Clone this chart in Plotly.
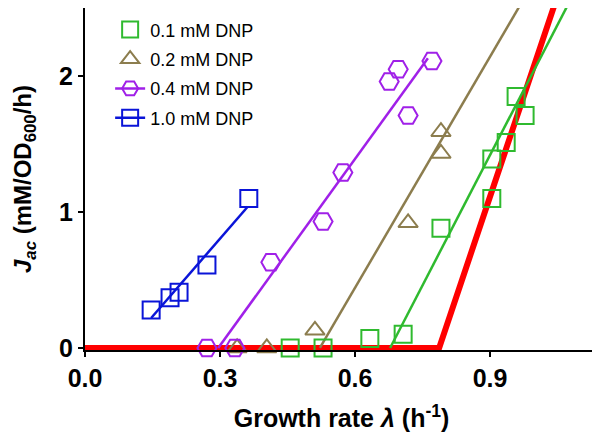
import plotly.graph_objects as go

# measured points (growth rate, acetate flux)
lam_01 = [0.456, 0.529, 0.633, 0.707, 0.791, 0.904, 0.904, 0.936, 0.958, 0.978]
jac_01 = [0.0, 0.0, 0.07, 0.10, 0.88, 1.10, 1.39, 1.51, 1.85, 1.71]
lam_02 = [0.338, 0.404, 0.511, 0.718, 0.791, 0.791]
jac_02 = [0.0, 0.0, 0.13, 0.92, 1.59, 1.43]
lam_04 = [0.271, 0.333, 0.413, 0.529, 0.573, 0.676, 0.696, 0.718, 0.771]
jac_04 = [0.0, 0.0, 0.63, 0.93, 1.29, 1.96, 2.05, 1.71, 2.11]
lam_10 = [0.147, 0.189, 0.209, 0.271, 0.364]
jac_10 = [0.28, 0.37, 0.41, 0.61, 1.10]

# fitted lines (end points)
fit_01_x = [0.678, 1.071]
fit_01_y = [0.0, 2.51]
fit_02_x = [0.522, 0.965]
fit_02_y = [0.0, 2.51]
fit_04_x = [0.296, 0.762]
fit_04_y = [0.0, 2.13]
fit_10_x = [0.147, 0.362]
fit_10_y = [0.22, 1.04]

# model prediction (no DNP)
model_x = [0.0, 0.787, 1.042]
model_y = [0.0, 0.0, 2.51]

names = ["0.1 mM DNP", "0.2 mM DNP", "0.4 mM DNP", "1.0 mM DNP"]
colors = ["#2fba2f", "#8c7d4e", "#a020e8", "#0a14d8"]

fig = go.Figure()

fig.add_trace(go.Scatter(x=model_x, y=model_y, mode="lines",
                         line=dict(color="#ff0000", width=6),
                         showlegend=False))

fits = [(fit_01_x, fit_01_y), (fit_02_x, fit_02_y), (fit_04_x, fit_04_y), (fit_10_x, fit_10_y)]
for (fx, fy), c in zip(fits, colors):
    fig.add_trace(go.Scatter(x=fx, y=fy, mode="lines", line=dict(color=c, width=2.5),
                             showlegend=False))

data = [(lam_01, jac_01), (lam_02, jac_02), (lam_04, jac_04), (lam_10, jac_10)]
symbols = ["square-open", "triangle-up-open", "hexagon2-open", "square-open"]
sizes = [17, 17, 19, 17]
for i, ((x, y), c, s, sz, n) in enumerate(zip(data, colors, symbols, sizes, names)):
    fig.add_trace(go.Scatter(x=x, y=y, mode="markers", name=n,
                             marker=dict(symbol=s, size=sz, color=c, line=dict(color=c, width=2)),
                             showlegend=(i < 2), legendgroup="g%d" % i, cliponaxis=False))
    if i >= 2:
        # legend entry with a line through the marker
        fig.add_trace(go.Scatter(x=[None], y=[None], mode="lines+markers", name=n,
                                 line=dict(color=c, width=2.5),
                                 marker=dict(symbol=s, size=sz, color=c, line=dict(color=c, width=2)),
                                 legendgroup="g%d" % i))

# page body has an 8px margin, so the figure is a bit smaller than the window
fig.update_layout(
    width=592, height=424,
    margin=dict(l=77, r=2, t=0, b=82),
    plot_bgcolor="white", paper_bgcolor="white",
    font=dict(family="Arial, Liberation Sans", color="black"),
    legend=dict(x=0.049, y=0.99, xanchor="left", yanchor="top",
                font=dict(size=18), traceorder="grouped", tracegroupgap=3,
                bgcolor="rgba(0,0,0,0)"),
    xaxis=dict(range=[0, 1.14], tickvals=[0, 0.3, 0.6, 0.9], ticktext=["0.0", "0.3", "0.6", "0.9"],
               automargin=False,
               showline=True, linecolor="black", linewidth=2, ticks="outside", ticklen=5,
               tickwidth=2, tickcolor="black", showgrid=False, zeroline=False,
               tickfont=dict(size=25, weight="bold"),
               title=dict(text="Growth rate <i>λ</i> (h<sup>-1</sup>)", font=dict(size=25, weight="bold"),
                          standoff=23)),
    yaxis=dict(range=[-0.015, 2.5], tickvals=[0, 1, 2], automargin=False,
               showline=True, linecolor="black", linewidth=2, ticks="outside", ticklen=5,
               tickwidth=2, tickcolor="black", showgrid=False, zeroline=False,
               tickfont=dict(size=25, weight="bold"),
               title=dict(text="<i>J<sub>ac</sub></i> (mM/OD<sub>600</sub>/h)",
                          font=dict(size=24, weight="bold"), standoff=21)),
)

fig.write_html("out.html")
